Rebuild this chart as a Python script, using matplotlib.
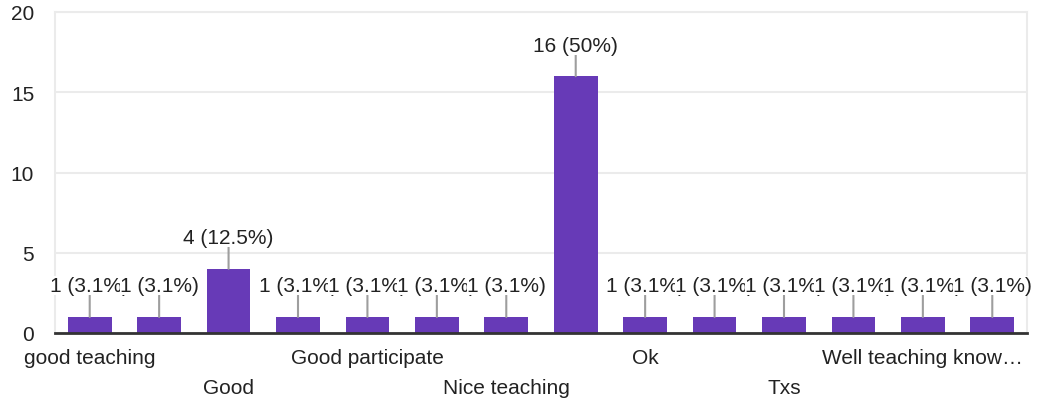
import matplotlib
matplotlib.use("Agg")
import matplotlib.pyplot as plt
from matplotlib.transforms import blended_transform_factory, offset_copy

# Response counts per answer (14 answers, 32 responses in total)
counts = [1, 1, 4, 1, 1, 1, 1, 16, 1, 1, 1, 1, 1, 1]
# Axis labels; only every other answer has room for its label
tick_labels = ["good teaching", "", "Good", "", "Good participate", "",
               "Nice teaching", "", "Ok", "", "Txs", "",
               "Well teaching know\u2026", ""]
y_ticks = [0, 5, 10, 15, 20]

plt.rcParams["font.family"] = ["Liberation Sans", "DejaVu Sans"]
BAR = "#673ab7"
TEXT = "#222222"
GRID = "#ebebeb"
FS = 15

fig = plt.figure(figsize=(10.39, 4.06), dpi=100)
ax = fig.add_axes([55 / 1039, 1 - 334 / 406, (1027 - 55) / 1039, (334 - 13) / 406])

x = list(range(len(counts)))
ax.bar(x, counts, width=0.63, color=BAR, zorder=2)

ax.set_xlim(-0.5, len(counts) - 0.5)
ax.set_ylim(0, 20)
ax.set_yticks(y_ticks)
ax.set_yticklabels([str(v) for v in y_ticks], fontsize=FS, color=TEXT)
ax.tick_params(axis="y", length=0, pad=15)
ax.set_xticks([])
ax.grid(axis="y", color=GRID, linewidth=1.5, zorder=0)
ax.set_axisbelow(True)

for side in ("left", "right", "top"):
    ax.spines[side].set_color(GRID)
    ax.spines[side].set_linewidth(1.5)
ax.spines["bottom"].set_color("#333333")
ax.spines["bottom"].set_linewidth(2)
ax.spines["bottom"].set_zorder(3)

total = sum(counts)
for i, v in enumerate(counts):
    pct = 100 * v / total
    pct_txt = f"{pct:.1f}".rstrip("0").rstrip(".")
    ax.annotate(f"{v} ({pct_txt}%)", xy=(i, v), xytext=(0, 15.5),
                textcoords="offset points", ha="center", va="bottom",
                fontsize=FS, color=TEXT, zorder=4 + i,
                bbox=dict(boxstyle="square,pad=0", facecolor="white",
                          edgecolor="none"),
                arrowprops=dict(arrowstyle="-", color="#9e9e9e", lw=1.5,
                                shrinkA=0, shrinkB=0, relpos=(0.5, 0)))

trans = blended_transform_factory(ax.transData, ax.transAxes)
for i, lab in enumerate(tick_labels):
    if not lab:
        continue
    row = (i // 2) % 2
    off = -18 if row == 0 else -39
    ax.text(i, 0, lab, transform=offset_copy(trans, fig=fig, y=off, units="points"),
            ha="center", va="center", fontsize=FS, color=TEXT)

fig.savefig("out.png", dpi=100)
